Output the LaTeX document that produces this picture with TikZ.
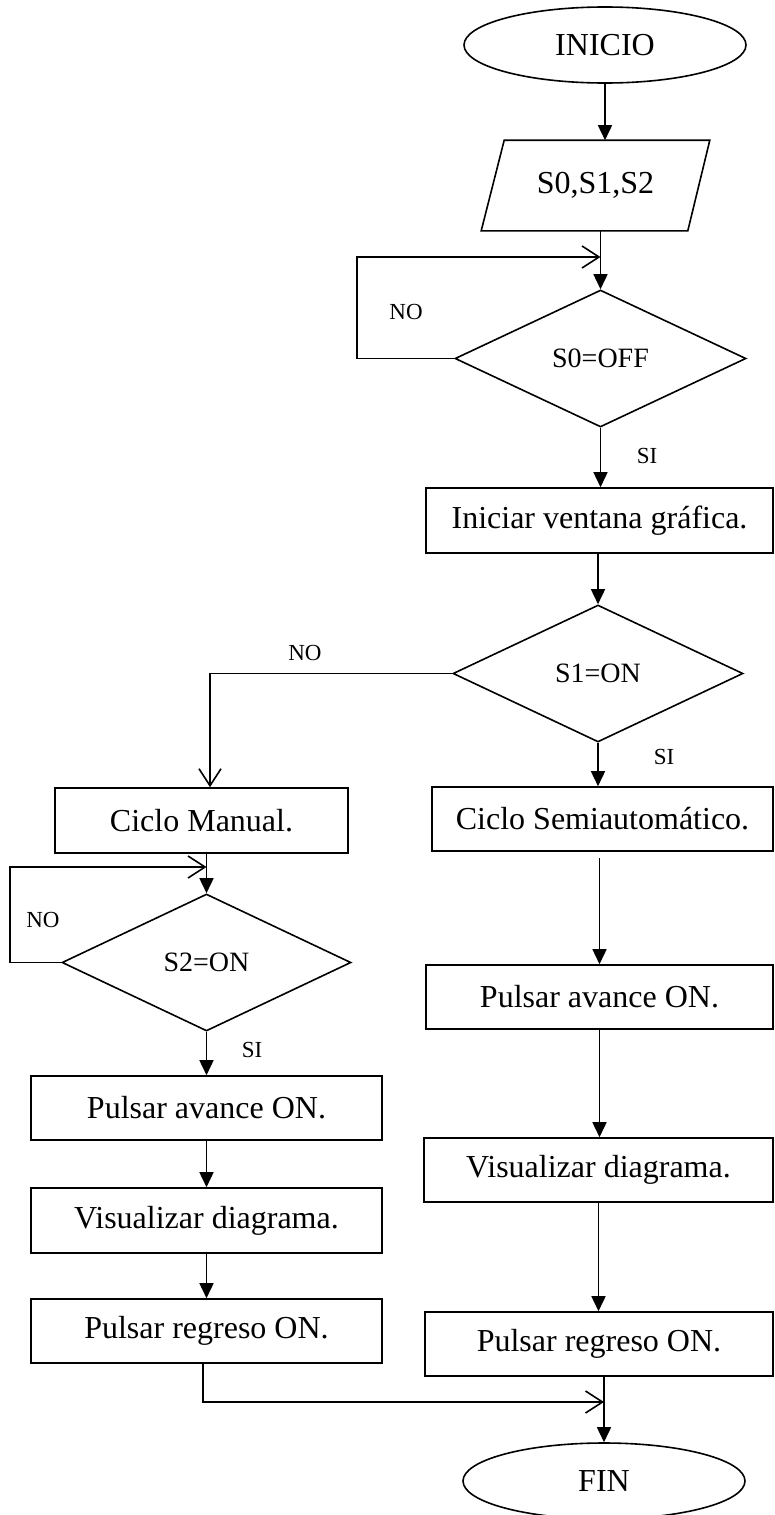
\documentclass[tikz,border=0pt]{standalone}
\usepackage{fontspec}
\setmainfont{Liberation Serif}
\usetikzlibrary{shapes.geometric,arrows.meta}

\begin{document}
\begin{tikzpicture}[x=1pt,y=-1pt,
  line width=1.6pt,
  proc/.style={draw,rectangle,inner sep=0pt,minimum height=64pt,
    font=\fontsize{32}{38}\selectfont},
  dec/.style={draw,diamond,inner sep=0pt,minimum height=137pt,
    font=\fontsize{28}{34}\selectfont},
  term/.style={draw,ellipse,inner sep=0pt,font=\fontsize{32}{38}\selectfont},
  lbl/.style={font=\fontsize{23}{28}\selectfont,inner sep=0pt},
  flow/.style={-{Triangle[length=15pt,width=14pt]}},
  back/.style={-{Straight Barb[length=17pt,width=22pt]}}]

\useasboundingbox (0,0) rectangle (774,1515);

% main column
\node[term,minimum width=282pt,minimum height=76pt] (inicio) at (605,45) {INICIO};
\node[rectangle,inner sep=0pt,minimum width=204pt,minimum height=89pt,
  font=\fontsize{32}{38}\selectfont] (data) at (595.5,185.5) {S0,S1,S2};
\draw ([xshift=11.5pt]data.north west) -- ([xshift=11.5pt]data.north east)
  -- ([xshift=-10.5pt]data.south east) -- ([xshift=-11.5pt]data.south west) -- cycle;
\node[dec,minimum width=291pt] (d0) at (600.5,358.5) {S0=OFF};
\node[proc,minimum width=347pt,minimum height=65pt] (b1) at (599.5,520.5) {Iniciar ventana gráfica.};
\node[dec,minimum width=290pt] (d1) at (598,673.5) {S1=ON};

% semiautomatic branch
\node[proc,minimum width=341pt] (b2) at (602.5,819) {Ciclo Semiautomático.};
\node[proc,minimum width=347pt] (b3) at (599.5,997) {Pulsar avance ON.};
\node[proc,minimum width=349pt] (b4) at (598.5,1170) {Visualizar diagrama.};
\node[proc,minimum width=348pt] (b5) at (599,1344) {Pulsar regreso ON.};
\node[term,minimum width=282pt,minimum height=76pt] (fin) at (604,1481) {FIN};

% manual branch
\node[proc,minimum width=293pt,minimum height=65pt] (bm) at (201.5,820.5) {Ciclo Manual.};
\node[dec,minimum width=289pt] (d2) at (206.5,962.5) {S2=ON};
\node[proc,minimum width=351pt] (bl1) at (206.5,1108) {Pulsar avance ON.};
\node[proc,minimum width=351pt,minimum height=65pt] (bl2) at (206.5,1220.5) {Visualizar diagrama.};
\node[proc,minimum width=351pt] (bl3) at (206.5,1331) {Pulsar regreso ON.};

% junction points
\coordinate (j0) at (d0.north |- 0,257);
\coordinate (j2) at (d2.north |- 0,867);
\coordinate (j3) at (fin.north |- 0,1402);

% connectors, main column
\draw[flow] (inicio.south) -- (inicio.south |- data.north);
\draw (data.south -| d0.north) -- (j0);
\draw[flow] (j0) -- (d0.north);
\draw[back] (d0.west) -- ++(-97,0) |- (j0);
\node[lbl] (no0) at (406,312) {NO};
\draw[flow] (d0.south) -- (d0.south |- b1.north);
\node[lbl] (si0) at (647,456) {SI};
\draw[flow] (b1.south -| d1.north) -- (d1.north);
\draw[flow] (d1.south) -- (d1.south |- b2.north);
\node[lbl] (si1) at (664,757) {SI};
\draw[back] (d1.west) -| ([xshift=8.5pt]bm.north);
\node[lbl] (no1) at (305,653) {NO};

% connectors, semiautomatic branch
\draw[flow,shorten <=6pt] (b2.south -| b3.north) -- (b3.north);
\draw[flow] (b3.south) -- (b3.south |- b4.north);
\draw[flow] (b4.south) -- (b4.south |- b5.north);
\draw (b5.south -| fin.north) -- (j3);
\draw[flow] (j3) -- (fin.north);

% connectors, manual branch
\draw (bm.south -| d2.north) -- (j2);
\draw[flow] (j2) -- (d2.north);
\draw[back] (d2.west) -- ++(-51,0) |- (j2);
\node[lbl] (no2) at (43,920) {NO};
\draw[flow] (d2.south) -- (d2.south |- bl1.north);
\node[lbl] (si2) at (252,1050) {SI};
\draw[flow] (bl1.south) -- (bl2.north);
\draw[flow] (bl2.south) -- (bl3.north);
\draw[back] ([xshift=-3.5pt]bl3.south) |- (j3);
\end{tikzpicture}
\end{document}
